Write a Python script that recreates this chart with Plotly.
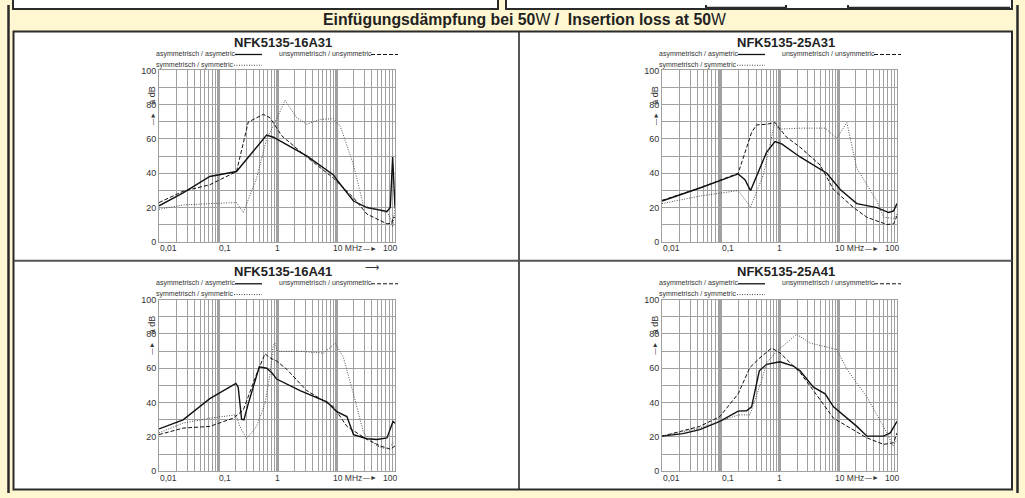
import math
import plotly.graph_objects as go

W, H = 1025, 498

# ---------------- data ----------------
header_text = "<b>Einfügungsdämpfung bei 50</b>W<b> /  Insertion loss at 50</b>W"
titles = ["NFK5135-16A31", "NFK5135-25A31", "NFK5135-16A41", "NFK5135-25A41"]
legend_asym = "asymmetrisch / asymetric"
legend_unsym = "unsymmetrisch / unsymmetric"
legend_sym = "symmetrisch / symmetric"
y_unit = "a dB"

x_tick_vals = [0.01, 0.1, 1, 10, 100]
x_tick_text = ["0,01", "0,1", "1", "10 MHz", "100"]
y_tick_vals = [0, 10, 20, 30, 40, 50, 60, 70, 80, 90, 100]
y_tick_text = ["0", "", "20", "", "40", "", "60", "", "80", "", "100"]

# NFK5135-16A31
f1_asym = [0.01, 0.0256, 0.0726, 0.206, 0.667, 0.867, 3.19, 9.08, 10.3, 19.8, 33.4, 73.1, 83.2, 91.2, 100]
a1_asym = [21, 28.6, 38.1, 41, 62.3, 61, 50.1, 39, 36.2, 23.8, 20, 17.7, 20, 49.5, 20]
f1_unsym = [0.01, 0.0256, 0.0726, 0.206, 0.305, 0.326, 0.586, 0.760, 1.20, 3.19, 9.08, 19.8, 33.4, 73.1, 88.9, 92.5, 100]
a1_unsym = [22.9, 29.5, 33.3, 41, 65.7, 69.9, 74.3, 72.4, 61.9, 49.5, 37.1, 25.7, 16.2, 10.5, 10.9, 14.3, 14.3]
f1_sym = [0.01, 0.0256, 0.0726, 0.206, 0.268, 0.451, 0.667, 0.925, 1.37, 2.16, 3.19, 5.38, 9.08, 11.8, 19.8, 29.3, 73.1, 83.2, 91.2, 100]
a1_sym = [19, 21.5, 22.3, 22.9, 17.1, 37.1, 60, 69.5, 82.5, 72.4, 68.6, 71.4, 71.8, 67.6, 44.8, 21, 17.1, 14.3, 8.6, 20]

# NFK5135-25A31
f2_asym = [0.01, 0.044, 0.198, 0.258, 0.322, 0.604, 0.838, 1.09, 2.24, 6.38, 10.8, 20.7, 45.6, 72.1, 87.7, 100]
a2_asym = [23.8, 31.4, 39.6, 36.2, 29.9, 52.4, 58.5, 57.1, 49.5, 40, 30.5, 22.3, 20, 17.1, 18.1, 22.3]
f2_unsym = [0.01, 0.044, 0.198, 0.335, 0.407, 0.604, 0.838, 1.32, 2.24, 4.91, 8.30, 18.2, 30.8, 67.5, 87.7, 100]
a2_unsym = [24.2, 31.4, 40, 63.8, 68.2, 68.6, 69.5, 61, 55.2, 44.8, 30.5, 20, 14.3, 10.1, 10.5, 15.2]
f2_sym = [0.01, 0.044, 0.198, 0.322, 0.530, 0.734, 0.838, 0.955, 2.24, 5.98, 9.46, 14.0, 20.7, 45.6, 59.2, 87.7, 100]
a2_sym = [22.3, 26.7, 29.9, 20.4, 39, 60, 69.9, 65.7, 66.3, 66.3, 60.4, 69.5, 42.9, 23.8, 14.3, 13.7, 16.2]

# NFK5135-16A41
f3_asym = [0.01, 0.0256, 0.0726, 0.201, 0.220, 0.251, 0.275, 0.326, 0.501, 0.667, 0.811, 0.987, 2.46, 6.98, 10.3, 15.3, 19.8, 33.4, 49.4, 73.1, 92.5, 100]
a3_asym = [24.6, 29.9, 42.3, 51.2, 49, 30.3, 29.9, 39.4, 60.8, 60, 57.5, 53.7, 47, 40.4, 34.7, 31.8, 21.3, 18.9, 18.5, 19.4, 29, 28]
f3_unsym = [0.01, 0.0256, 0.0726, 0.181, 0.268, 0.451, 0.625, 0.760, 0.987, 1.46, 3.19, 9.08, 15.3, 33.4, 56.3, 83.4, 100]
a3_unsym = [21.3, 25.1, 26.1, 30.9, 35.6, 56.6, 68.4, 66.1, 64.2, 59.4, 47, 37.5, 26.1, 18.5, 14.7, 12.8, 14.7]
f3_sym = [0.01, 0.0256, 0.0726, 0.201, 0.235, 0.305, 0.451, 0.625, 0.760, 0.867, 0.925, 1.01, 2.46, 6.14, 9.68, 13.4, 19.8, 29.3, 49.4, 73.1, 94.8]
a3_sym = [22.3, 28, 30.9, 32.8, 26.1, 18.9, 26.1, 39.4, 56.6, 73.7, 74.7, 69.9, 69.9, 68.8, 74.7, 66.1, 45.1, 22.3, 14.7, 12.8, 16.6]

# NFK5135-25A41
f4_asym = [0.01, 0.0228, 0.044, 0.0964, 0.198, 0.275, 0.335, 0.453, 0.604, 1.02, 1.72, 2.24, 3.78, 5.98, 8.30, 14.0, 20.7, 30.8, 59.2, 76.9, 100]
a4_asym = [20.4, 21.9, 24.2, 29, 35, 35.2, 37.5, 58.5, 62.3, 63.8, 61.3, 58.5, 49, 45.1, 37.5, 30.9, 26.1, 20.4, 20.4, 22.3, 29]
f4_unsym = [0.01, 0.044, 0.0964, 0.198, 0.313, 0.465, 0.734, 1.02, 1.61, 2.24, 3.78, 8.30, 16.0, 30.8, 59.2, 87.7, 100]
a4_unsym = [20.4, 26.1, 31.8, 45.1, 60.4, 66.1, 71.8, 69, 62.3, 57.5, 47, 30.9, 25.1, 19.4, 15.6, 16.6, 22.3]
f4_sym = [0.01, 0.044, 0.0964, 0.198, 0.313, 0.495, 0.604, 0.895, 1.96, 3.32, 9.46, 14.0, 30.8, 67.5, 85.5, 100]
a4_sym = [20.4, 25.1, 29, 32.8, 32.8, 52.8, 63.2, 69.9, 79.8, 74.7, 70.9, 59.4, 43.2, 22.3, 14.7, 18.5]

series = [
    [(f1_asym, a1_asym), (f1_unsym, a1_unsym), (f1_sym, a1_sym)],
    [(f2_asym, a2_asym), (f2_unsym, a2_unsym), (f2_sym, a2_sym)],
    [(f3_asym, a3_asym), (f3_unsym, a3_unsym), (f3_sym, a3_sym)],
    [(f4_asym, a4_asym), (f4_unsym, a4_unsym), (f4_sym, a4_sym)],
]

# ---------------- layout helpers ----------------
def px(x):
    return x / W

def py(y):
    return 1 - y / H

# plot-area pixel boxes (x0, x1, ytop, ybottom)
boxes = [(159, 395, 66.7, 241.7), (662, 897, 66.7, 241.7),
         (159, 395, 300.7, 475.7), (662, 897, 300.7, 475.7)]

FONT = "Liberation Sans, Arial, sans-serif"
DARK = "#2b2b2b"
GRID = "#a0a0a0"
styles = [dict(color="#111111", width=1.4, dash="solid"),
          dict(color="#111111", width=1.0, dash="4px,2px"),
          dict(color="#505050", width=1.0, dash="1px,1.5px")]
names = ["asymmetric", "unsymmetric", "symmetric"]

minor_vals = [m * 10 ** e for e in range(-2, 2) for m in range(2, 10)]

fig = go.Figure()
layout = dict(width=W, height=H, margin=dict(l=0, r=0, t=0, b=0),
              paper_bgcolor="#FFF7D2", plot_bgcolor="white", showlegend=False,
              font=dict(family=FONT, color=DARK))
shapes = []
annotations = []

def text(x, y, t, size, color="#333333", xanchor="center", yanchor="middle", angle=0, xref="paper", **kw):
    annotations.append(dict(xref=xref, yref="paper", x=x, y=y, text=t, showarrow=False,
                            xanchor=xanchor, yanchor=yanchor, textangle=angle,
                            font=dict(size=size, color=color, family=FONT), **kw))

# ---- frame ----
def rect(x0, y0, x1, y1, fill=None, lc=DARK, lw=2, layer="below"):
    shapes.append(dict(type="rect", xref="paper", yref="paper", x0=px(x0), x1=px(x1),
                       y0=py(y1), y1=py(y0), fillcolor=fill or "rgba(0,0,0,0)",
                       line=dict(color=lc, width=lw), layer=layer))

def line(x0, y0, x1, y1, lc=DARK, lw=2, dash="solid", layer="below"):
    shapes.append(dict(type="line", xref="paper", yref="paper", x0=px(x0), x1=px(x1),
                       y0=py(y0), y1=py(y1), line=dict(color=lc, width=lw, dash=dash), layer=layer))

rect(13, -6, 498, 4, fill="white")
rect(506, -6, 1012, 4, fill="white")
line(706, 0, 706, 4, lw=2)
line(786, 0, 786, 4, lw=2)
line(848, 0, 848, 4, lw=2)
line(706, 3, 786, 3, lw=2.5)
line(848, 3, 1010, 3, lw=2.5)
line(8.5, 0, 8.5, H, lw=2.5)
line(1017.5, 0, 1017.5, H, lw=2.5)
rect(13.5, 27, 1012, 494.5, fill="white", lw=2)
line(519, 27, 519, 494, lw=1.6)
line(14, 261, 1012, 261, lc="#555555", lw=2)

text(px(524), py(15), header_text, 15.8, color="#222222")

anchors = [("left", -1), ("left", -1), ("center", 0), ("left", -5), ("right", 4)]

for i, (x0, x1, yt, yb) in enumerate(boxes):
    n = "" if i == 0 else str(i + 1)
    xa, ya = "x" + n, "y" + n
    for (f, a), st, nm in zip(series[i], styles, names):
        fig.add_trace(go.Scatter(x=f, y=a, mode="lines", name=nm, line=st,
                                 xaxis=xa, yaxis=ya, hoverinfo="skip"))
    layout["xaxis" + n] = dict(type="log", range=[-2, 2], domain=[px(x0), px(x1)], anchor=ya,
                               tickvals=x_tick_vals, showticklabels=False, ticks="",
                               showgrid=True, gridcolor=GRID, gridwidth=2.6,
                               minor=dict(tickvals=minor_vals, showgrid=True, gridcolor=GRID,
                                          gridwidth=1, ticks=""),
                               showline=True, linecolor=GRID, linewidth=1, mirror=True,
                               zeroline=False, fixedrange=True)
    layout["yaxis" + n] = dict(range=[0, 100], domain=[py(yb), py(yt)], anchor=xa,
                               tickvals=y_tick_vals, ticktext=y_tick_text, ticks="",
                               tickfont=dict(size=9, color="#333333"),
                               showgrid=True, gridcolor=GRID, gridwidth=1,
                               showline=True, linecolor=GRID, linewidth=1, mirror=True,
                               zeroline=False, fixedrange=True)
    # x tick labels
    for v, t, (anc, sh) in zip(x_tick_vals, x_tick_text, anchors):
        text(math.log10(v), py(yb + 6.5), t, 8.5, xanchor=anc, xref=xa, xshift=sh)
    text(math.log10(x_tick_vals[-1]), py(yb + 6.5), "—►", 7, xanchor="right", xref=xa, xshift=-16)
    # unit label and arrow
    text(px(x0 - 7), py(yt + 26), y_unit, 9, angle=-90)
    text(px(x0 - 7), py(yt + 50), "—►", 6.5, angle=-90)
    # title
    text(px(x0 + 124), py(yt - 28.7), "<b>" + titles[i] + "</b>", 13, color="#222222")
    # legend
    text(px(x0 - 5), py(yt - 16.7), legend_asym, 7, xanchor="left")
    text(px(x0 + 118), py(yt - 16.7), legend_unsym, 7, xanchor="left")
    text(px(x0 - 5), py(yt - 5.7), legend_sym, 7, xanchor="left")
    line(x0 + 76, yt - 16.2, x0 + 103, yt - 16.2, lc="#111111", lw=1.3, layer="above")
    line(x0 + 212, yt - 16.2, x0 + 239, yt - 16.2, lc="#111111", lw=1, dash="4px,2px", layer="above")
    line(x0 + 75, yt - 5.2, x0 + 103, yt - 5.2, lc="#444444", lw=1, dash="1px,1.5px", layer="above")

# small stray arrow next to the 16A41 title
text(px(372), py(268), "⟶", 10)

layout["shapes"] = shapes
layout["annotations"] = annotations
fig.update_layout(**layout)
fig.write_html("out.html", config={"displayModeBar": False},
               post_script="document.body.style.margin='0';document.body.style.overflow='hidden';")
